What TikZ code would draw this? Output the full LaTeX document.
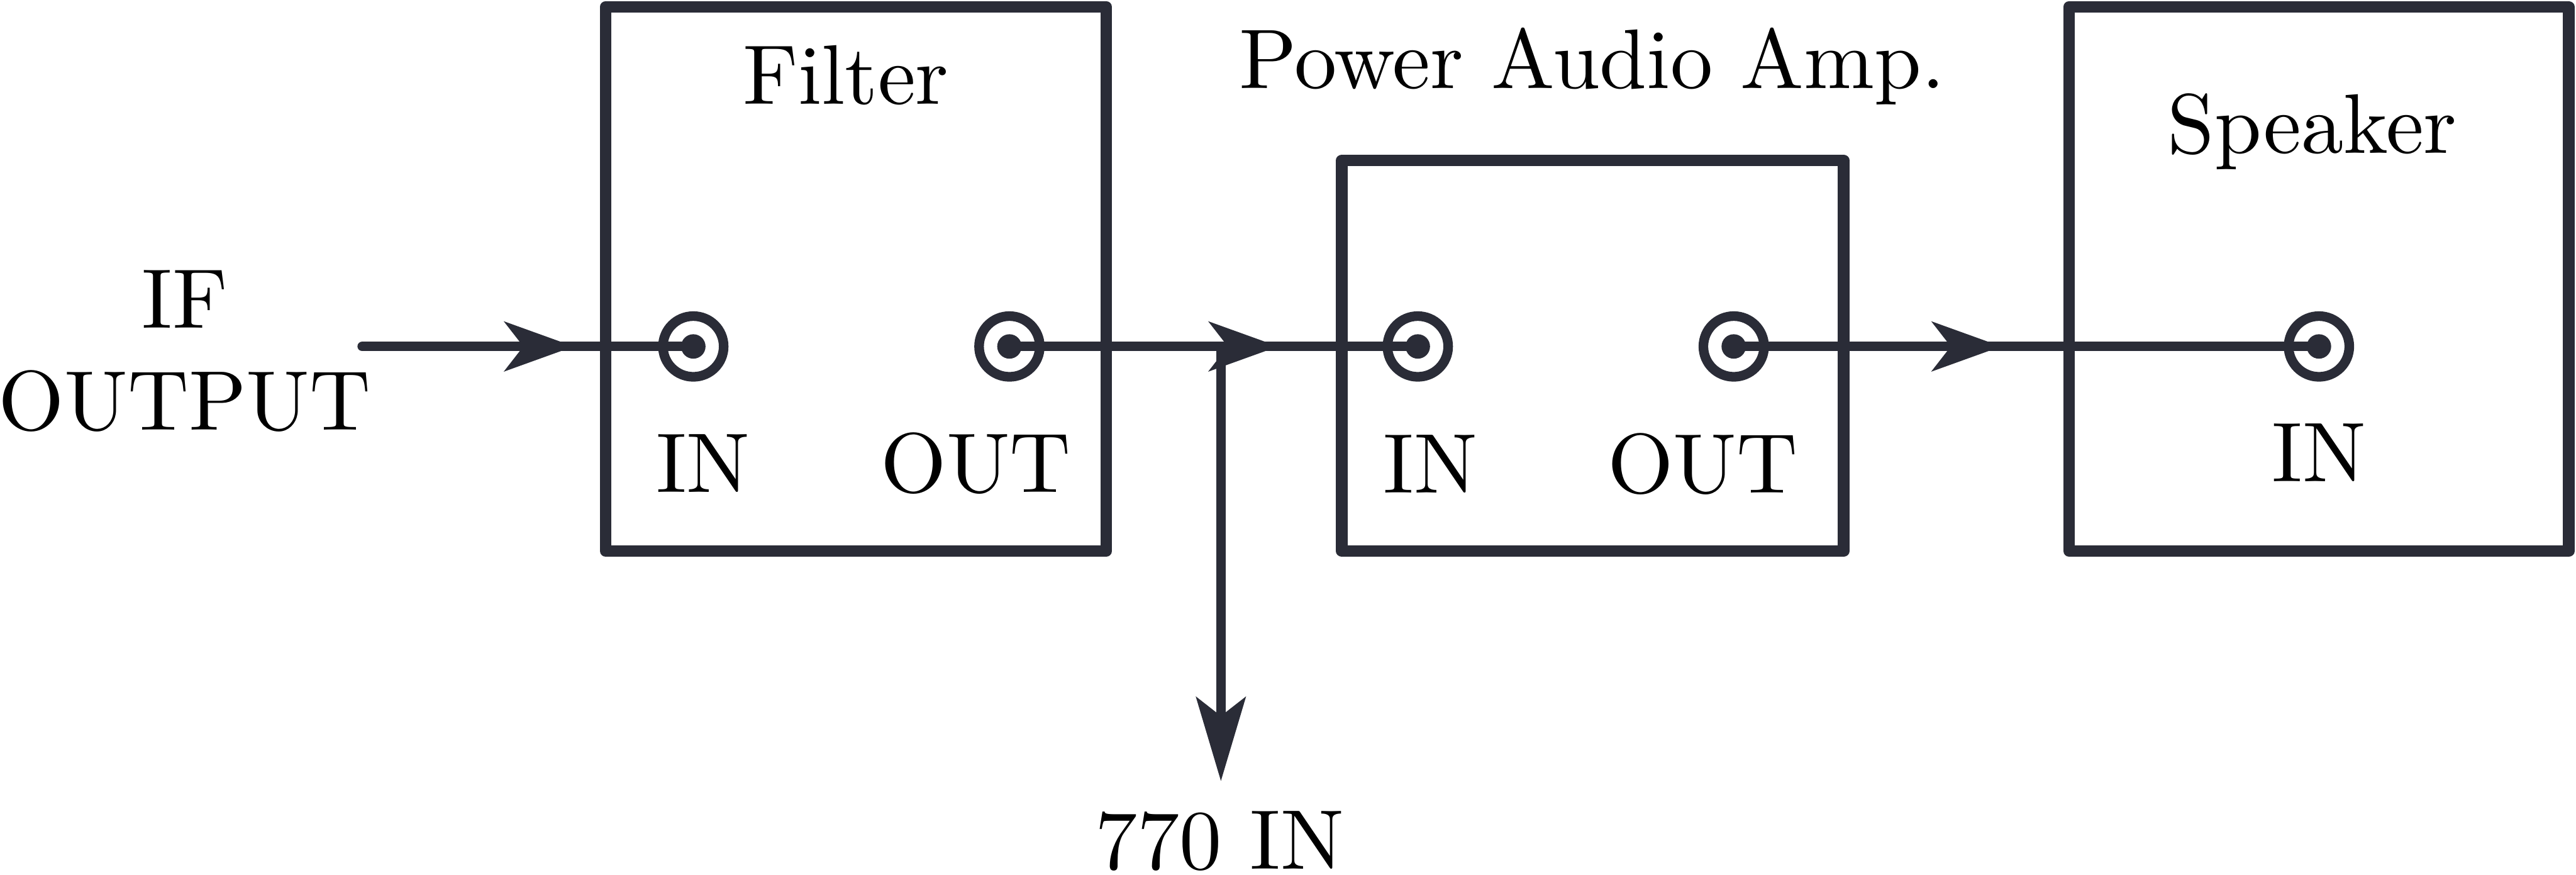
\documentclass[tikz,border=0pt]{standalone}
\usepackage{fontspec}
\setmainfont{lmroman10-regular}[Extension=.otf]
\usetikzlibrary{arrows.meta,decorations.markings}
\definecolor{inkgray}{RGB}{42,44,55}

\begin{document}
\begin{tikzpicture}[
    font=\fontsize{13.2}{15.9}\selectfont,
    box/.style={draw=inkgray, line width=1.8pt, line join=round},
    signal/.style={draw=inkgray, line width=1.5pt, line cap=round},
    jack/.style={circle, draw=inkgray, line width=1.5pt, minimum size=0.333cm, inner sep=0pt,
        path picture={\fill[inkgray] (path picture bounding box.center) circle (0.067);}},
    lbl/.style={anchor=base},
    flowmark/.style={postaction={decorate, decoration={markings,
        mark=at position #1 with {\arrow{Stealth[length=0.38cm, width=0.27cm, inset=0.103cm]}}}}}
]
    \useasboundingbox (0,0) rectangle (14.13,4.797);

    % filter box
    \draw[box] (3.323,1.775) rectangle (6.067,4.76);
    \node[lbl] (filterlbl) at (4.64,4.227) {Filter};
    \node[jack] (fin) at (3.803,2.897) {};
    \node[jack] (fout) at (5.537,2.897) {};
    \node[lbl] (finlbl) at (3.857,2.097) {IN};
    \node[lbl] (foutlbl) at (5.353,2.097) {OUT};

    % power amp box
    \draw[box] (7.36,1.775) rectangle (10.113,3.917);
    \node[lbl] (amplbl) at (8.733,4.313) {Power Audio Amp.};
    \node[jack] (ain) at (7.777,2.897) {};
    \node[jack] (aout) at (9.51,2.897) {};
    \node[lbl] (ainlbl) at (7.847,2.093) {IN};
    \node[lbl] (aoutlbl) at (9.34,2.093) {OUT};

    % speaker box
    \draw[box] (11.35,1.775) rectangle (14.09,4.76);
    \node[lbl] (spklbl) at (12.683,3.957) {Speaker};
    \node[jack] (sin) at (12.72,2.897) {};
    \node[lbl] (sinlbl) at (12.72,2.157) {IN};

    % signal path
    \node[align=center] (iflbl) at (1.013,2.873) {IF\\OUTPUT};
    \coordinate (ifout) at (1.987,2.897);
    \coordinate (tap) at (6.697,2.897);
    \coordinate (tip770) at (6.697,0.513);
    \draw[signal, flowmark=1.161cm] (ifout) -- (fin.center);
    \draw[signal, flowmark=1.475cm] (fout.center) -- (ain.center);
    \draw[signal, flowmark=1.468cm] (aout.center) -- (sin.center);
    \draw[signal, -{Stealth[length=0.46cm, width=0.27cm, inset=0.103cm]}] (tap) -- (tip770);
    \node[lbl] (lbl770) at (6.69,0.03) {770 IN};
\end{tikzpicture}
\end{document}
